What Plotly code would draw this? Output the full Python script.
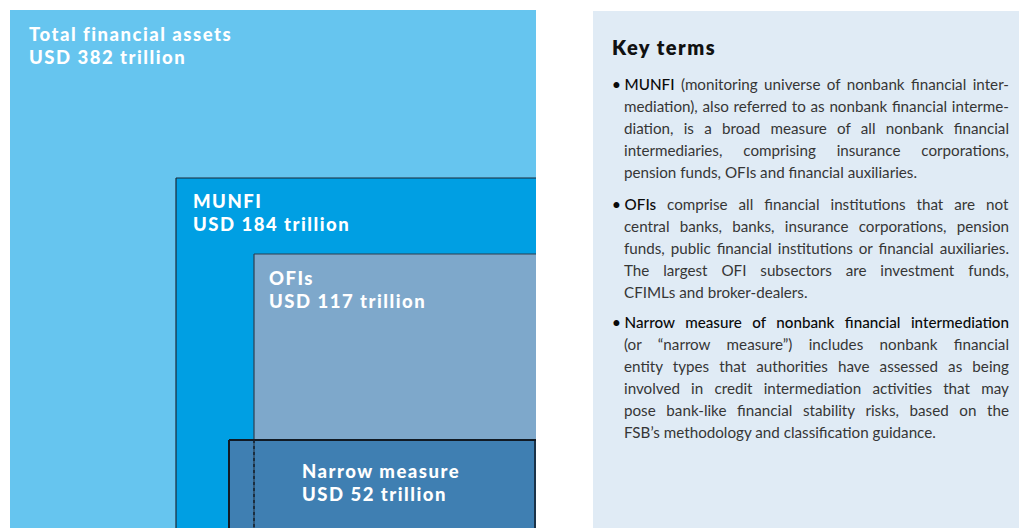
import json
import plotly.graph_objects as go

# ---- data ----
categories = ["Total financial assets", "MUNFI", "OFIs", "Narrow measure"]
values_usd_tn = [382, 184, 117, 52]

key_terms_title = "Key terms"
bullet_terms = ["MUNFI", "OFIs", "Narrow measure of nonbank financial intermediation"]
bullet_lines = [
    [" (monitoring universe of nonbank financial inter-",
     "mediation), also referred to as nonbank financial interme-",
     "diation, is a broad measure of all nonbank financial",
     "intermediaries, comprising insurance corporations,",
     "pension funds, OFIs and financial auxiliaries."],
    [" comprise all financial institutions that are not",
     "central banks, banks, insurance corporations, pension",
     "funds, public financial institutions or financial auxiliaries.",
     "The largest OFI subsectors are investment funds,",
     "CFIMLs and broker-dealers."],
    ["",
     "(or \u201cnarrow measure\u201d) includes nonbank financial",
     "entity types that authorities have assessed as being",
     "involved in credit intermediation activities that may",
     "pose bank-like financial stability risks, based on the",
     "FSB\u2019s methodology and classification guidance."],
]

# ---- layout / style (pixel-space canvas) ----
W, H = 1019, 528
boxes = [  # x0, y0, x1, y1
    (10, 10, 536, 528),
    (176, 178, 536, 528),
    (254, 254, 536, 528),
    (229, 440, 536, 528),
]
fills = ["#66C5EF", "#009FE3", "#7EA8CB", "#3F7FB2"]
border_cols = [None, "#1b2a38", "#2c3e50", "#111a24"]
border_w = [0, 1.2, 1.2, 2]
label_pos = [(27, 34), (191, 201), (267, 278), (300, 471)]

fig = go.Figure()
fig.add_trace(go.Scatter(x=[0, W], y=[0, H], mode="markers",
                         marker=dict(opacity=0), hoverinfo="skip", showlegend=False))

shapes = []
annotations = []
label_font = dict(family="Lato", size=18.5, color="white", weight=900)


def wide(s, ls=1.5):
    return f"<span style='letter-spacing:{ls}px'>{s}</span>"


for i, (cat, val) in enumerate(zip(categories, values_usd_tn)):
    x0, y0, x1, y1 = boxes[i]
    shapes.append(dict(type="rect", xref="x", yref="y", x0=x0, y0=y0, x1=x1, y1=y1,
                       fillcolor=fills[i], line=dict(width=0), layer="below"))
    if border_cols[i]:
        lw = border_w[i]
        shapes.append(dict(type="line", xref="x", yref="y", x0=x0, y0=y0, x1=x1, y1=y0,
                           line=dict(color=border_cols[i], width=lw)))
        shapes.append(dict(type="line", xref="x", yref="y", x0=x0, y0=y0, x1=x0, y1=y1,
                           line=dict(color=border_cols[i], width=lw)))
    lx, ly = label_pos[i]
    annotations.append(dict(
        x=lx, y=ly, xref="x", yref="y", xanchor="left", yanchor="middle", align="left",
        text=wide(cat), showarrow=False, font=label_font))
    annotations.append(dict(
        x=lx, y=ly + 23, xref="x", yref="y", xanchor="left", yanchor="middle", align="left",
        text=wide(f"USD {val} trillion"), showarrow=False, font=label_font))

# right edge of narrow box and dashed continuation of OFI edge
shapes.append(dict(type="line", xref="x", yref="y", x0=535, y0=440, x1=535, y1=528,
                   line=dict(color="#111a24", width=1.5)))
shapes.append(dict(type="line", xref="x", yref="y", x0=254, y0=440, x1=254, y1=528,
                   line=dict(color="#14202e", width=1.5, dash="dot")))

# key terms panel
shapes.append(dict(type="rect", xref="x", yref="y", x0=593, y0=11, x1=W, y1=H,
                   fillcolor="#E0EBF5", line=dict(width=0), layer="below"))
annotations.append(dict(x=610, y=47, xref="x", yref="y", xanchor="left", yanchor="middle",
                        align="left", text=wide(key_terms_title, 1.5), showarrow=False,
                        font=dict(family="Lato", size=20, color="#111111", weight=800)))

block_y = [84, 204, 322]
line_h = 22
body_font = dict(family="Lato", size=15.2, color="#363636", weight=400)
justify_idx = []
for b, (term, lines) in enumerate(zip(bullet_terms, bullet_lines)):
    for j, ln in enumerate(lines):
        y = block_y[b] + j * line_h
        if j == 0:
            txt = f"<span style='color:#0a0a0a;font-weight:500'>\u2022\u2005{term}</span>{ln}"
            x = 610
        else:
            txt = ln
            x = 622
        if j < len(lines) - 1:
            justify_idx.append(len(annotations))
        annotations.append(dict(x=x, y=y, xref="x", yref="y", xanchor="left",
                                yanchor="middle", align="left", text=txt,
                                showarrow=False, font=body_font))

fig.update_layout(
    width=W, height=H, margin=dict(l=0, r=0, t=0, b=0),
    paper_bgcolor="white", plot_bgcolor="white",
    xaxis=dict(range=[0, W], visible=False, fixedrange=True),
    yaxis=dict(range=[H, 0], visible=False, fixedrange=True),
    shapes=shapes, annotations=annotations, showlegend=False,
)

justify_js = """
document.body.style.margin='0';document.body.style.padding='0';
document.body.style.overflow='hidden';
try {
  var gd = document.getElementById('{plot_id}');
  var idx = %s; var rightEdge = 1009;
  gd.querySelectorAll('g.annotation').forEach(function(g){
    var i = +g.getAttribute('data-index');
    if (idx.indexOf(i) < 0) return;
    var t = g.querySelector('text.annotation-text');
    if (!t) return;
    var n = (t.textContent.match(/ /g) || []).length;
    if (!n) return;
    var r = t.getBoundingClientRect();
    var extra = rightEdge - r.right;
    if (extra > 0 && extra < 80) { t.style.wordSpacing = (extra / n) + 'px'; }
  });
} catch (e) {}
""" % json.dumps(justify_idx)

fig.write_html("out.html", config={"displayModeBar": False}, post_script=justify_js)
